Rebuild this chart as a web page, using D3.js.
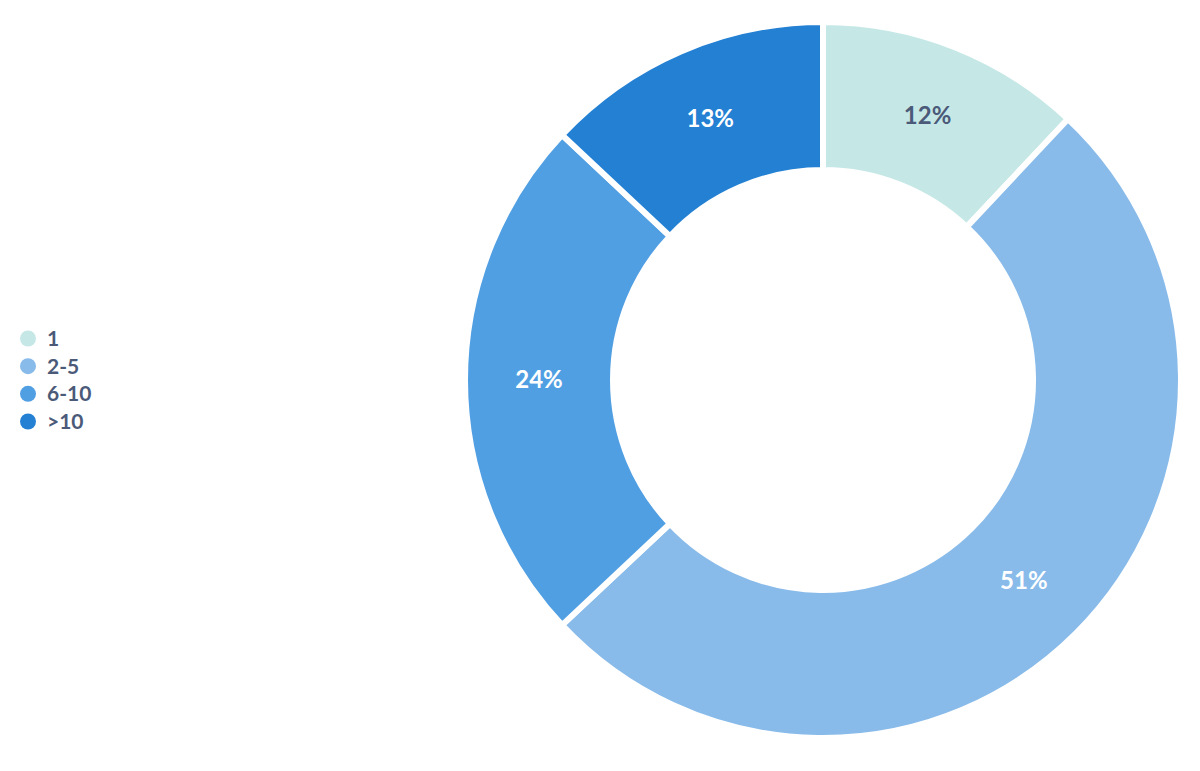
<!DOCTYPE html>
<html><head><meta charset="utf-8">
<script src="https://cdn.jsdelivr.net/npm/d3@7"></script>
<style>html,body{margin:0;padding:0;background:#fff;}svg{display:block;}</style>
</head><body>
<svg id="chart" width="1200" height="771"></svg>
<script>
const categories = ["1", "2-5", "6-10", ">10"];
const values = [12, 51, 24, 13];
const colors = ["#c5e8e6", "#88bbea", "#519fe3", "#2380d3"];
const labelColors = ["#4b5a79", "#ffffff", "#ffffff", "#ffffff"];

const svg = d3.select("#chart");
const cx = 823, cy = 380, outerR = 358, innerR = 210;
const data = categories.map((c, i) => ({cat: c, value: values[i], i}));
const pie = d3.pie().value(d => d.value).sort(null);
const arc = d3.arc().innerRadius(innerR).outerRadius(outerR);
const labelArc = d3.arc().innerRadius(284).outerRadius(284);
const g = svg.append("g").attr("transform", `translate(${cx},${cy})`);
const arcs = pie(data);
g.selectAll("path").data(arcs).join("path")
  .attr("d", arc)
  .attr("fill", d => colors[d.data.i])
  .attr("stroke", "#fff").attr("stroke-width", 6).attr("stroke-linejoin", "miter");
g.selectAll("text").data(arcs).join("text")
  .attr("transform", d => `translate(${labelArc.centroid(d)})`)
  .attr("text-anchor", "middle").attr("dy", "0.33em")
  .attr("font-family", "Lato, sans-serif").attr("font-weight", "bold").attr("font-size", 24)
  .attr("fill", d => labelColors[d.data.i])
  .text(d => d.data.value + "%");

const legend = svg.append("g");
const ly = d3.scalePoint().domain(categories).range([338.5, 421.5]);
const items = legend.selectAll("g").data(data).join("g")
  .attr("transform", d => `translate(28,${ly(d.cat)})`);
items.append("circle").attr("r", 8).attr("fill", d => colors[d.i]);
items.append("text").attr("x", 19).attr("dy", "0.36em")
  .attr("font-family", "Lato, sans-serif").attr("font-weight", "bold").attr("font-size", 21)
  .attr("fill", "#4b5a79").text(d => d.cat);
</script>
</body></html>
